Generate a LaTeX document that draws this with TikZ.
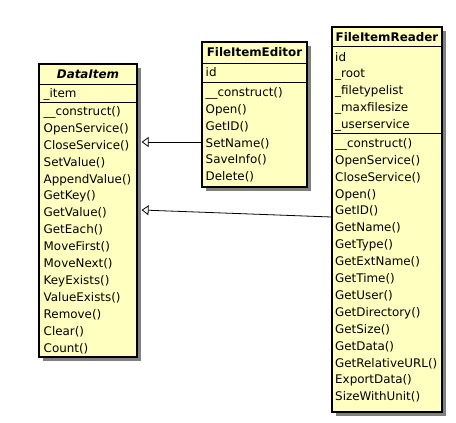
\documentclass[tikz,border=0pt]{standalone}
\usepackage{fontspec}
\setmainfont{DejaVu Sans}
\usetikzlibrary{arrows.meta,shadows}
\definecolor{classfill}{RGB}{255,255,192}
\definecolor{shadowgray}{RGB}{128,128,128}
\tikzset{
  classbox/.style={draw=black, line width=1.2pt, fill=classfill, inner sep=0pt,
    drop shadow={shadow xshift=4pt, shadow yshift=-4pt, fill=shadowgray, opacity=1}},
  sep/.style={draw=black, line width=0.9pt},
  member/.style={anchor=base west, inner sep=0pt, font=\fontsize{11.9}{14}\selectfont},
  title/.style={anchor=base, inner sep=0pt, font=\fontsize{11.9}{14}\selectfont\bfseries},
  inherit/.style={draw=black, line width=0.8pt, -{Triangle[open,length=7pt,width=10pt,line width=0.8pt]}}
}
\begin{document}
\begin{tikzpicture}[x=1pt,y=-1pt]
\useasboundingbox (0,0) rectangle (456,423);

% ---------- DataItem ----------
\node[classbox, minimum width=98pt, minimum height=293pt] (dataitem) at (88,210.5) {};
\draw[sep] (39,84) -- (137,84);
\draw[sep] (39,102.5) -- (137,102.5);
\node[title, font=\fontsize{11.9}{14}\selectfont\bfseries\itshape] (dt) at (88,78.3) {DataItem};
\node[member] (da1) at (43.5,97.3) {\_item};
\foreach \t [count=\i from 0] in {\_\_construct(),OpenService(),CloseService(),SetValue(),AppendValue(),GetKey(),GetValue(),GetEach(),MoveFirst(),MoveNext(),KeyExists(),ValueExists(),Remove(),Clear(),Count()}
  \node[member] (dm\i) at (43.5,115.3+16.93*\i) {\t};

% ---------- FileItemEditor ----------
\node[classbox, minimum width=105pt, minimum height=145pt] (editor) at (254.5,114.5) {};
\draw[sep] (202,63) -- (307,63);
\draw[sep] (202,82) -- (307,82);
\node[title] (et) at (254.5,56.8) {FileItemEditor};
\node[member] (ea1) at (205.5,76.8) {id};
\foreach \t [count=\i from 0] in {\_\_construct(),Open(),GetID(),SetName(),SaveInfo(),Delete()}
  \node[member] (em\i) at (205.5,96.6+16.8*\i) {\t};

% ---------- FileItemReader ----------
\node[classbox, minimum width=110pt, minimum height=385pt] (reader) at (387,219.5) {};
\draw[sep] (332,46.7) -- (442,46.7);
\draw[sep] (332,133.3) -- (442,133.3);
\node[title] (rt) at (387,41.3) {FileItemReader};
\foreach \t [count=\i from 0] in {id,\_root,\_filetypelist,\_maxfilesize,\_userservice}
  \node[member] (ra\i) at (335,61+16.85*\i) {\t};
\foreach \t [count=\i from 0] in {\_\_construct(),OpenService(),CloseService(),Open(),GetID(),GetName(),GetType(),GetExtName(),GetTime(),GetUser(),GetDirectory(),GetSize(),GetData(),GetRelativeURL(),ExportData(),SizeWithUnit()}
  \node[member] (rm\i) at (335,147.3+16.9*\i) {\t};

% ---------- generalizations ----------
\coordinate (e1) at (editor.west |- 0,142);
\coordinate (t1) at ([xshift=4pt]dataitem.east |- 0,142);
\coordinate (e2) at (reader.west |- 0,217);
\coordinate (t2) at ([xshift=4pt]dataitem.east |- 0,210);
\draw[inherit] (e1) -- (t1);
\draw[inherit] (e2) -- (t2);
\end{tikzpicture}
\end{document}
